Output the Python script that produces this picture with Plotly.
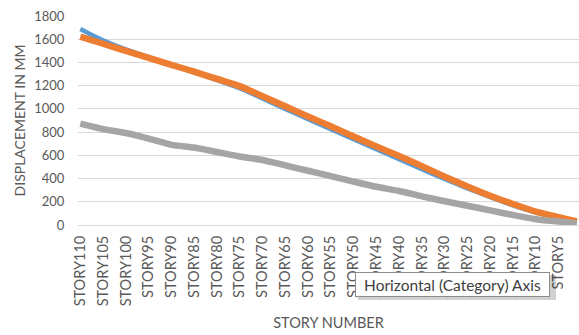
import plotly.graph_objects as go

# Categories (all stories on the axis) and labelled ticks
all_stories = [f"STORY{n}" for n in range(110, 0, -1)]
tick_stories = [f"STORY{n}" for n in range(110, 0, -5)]

read_stories = tick_stories + ["STORY1"]

blue_vals = [1688, 1590, 1512, 1445, 1378, 1314, 1248, 1178, 1090, 1000, 912,
             826, 740, 652, 566, 480, 396, 316, 240, 170, 108, 58, 22]
orange_vals = [1622, 1561, 1500, 1440, 1380, 1320, 1258, 1196, 1110, 1022, 935,
               850, 763, 677, 594, 507, 417, 332, 252, 181, 116, 68, 30]
gray_vals = [873, 826, 792, 744, 690, 667, 629, 590, 560, 514, 467,
             421, 374, 329, 293, 247, 205, 166, 126, 86, 50, 30, 14]

fig = go.Figure()
fig.add_trace(go.Scatter(x=read_stories, y=blue_vals, mode="lines",
                         line=dict(color="#5B9BD5", width=4.5, shape="spline", smoothing=0.6),
                         showlegend=False, hoverinfo="skip"))
fig.add_trace(go.Scatter(x=read_stories, y=orange_vals, mode="lines",
                         line=dict(color="#ED7D31", width=6.5, shape="spline", smoothing=0.6),
                         showlegend=False, hoverinfo="skip"))
fig.add_trace(go.Scatter(x=read_stories, y=gray_vals, mode="lines",
                         line=dict(color="#A5A5A5", width=6.5, shape="spline", smoothing=0.6),
                         showlegend=False, hoverinfo="skip"))

font_family = "Lato, Open Sans, sans-serif"

fig.update_layout(
    width=579, height=335,
    margin=dict(l=78, r=0, t=16, b=110),
    plot_bgcolor="white", paper_bgcolor="white",
    font=dict(family=font_family, color="#595959", size=12),
    xaxis=dict(
        type="category", categoryorder="array", categoryarray=all_stories,
        range=[-0.5, 109.5],
        tickmode="array", tickvals=tick_stories, ticktext=tick_stories,
        tickangle=-90, ticks="outside", ticklen=4, tickcolor="rgba(0,0,0,0)",
        showgrid=False, showline=False, zeroline=False,
        tickfont=dict(size=14.5, color="#595959"),
        title=dict(text="STORY NUMBER", font=dict(size=14.5, color="#595959"), standoff=12),
        automargin=False,
    ),
    yaxis=dict(
        range=[0, 1800], tickmode="array", tickvals=list(range(0, 1801, 200)),
        showgrid=True, gridcolor="#D9D9D9", gridwidth=1,
        zeroline=True, zerolinecolor="#D9D9D9", zerolinewidth=1,
        showline=False, ticks="outside", ticklen=10, tickcolor="rgba(0,0,0,0)",
        tickfont=dict(size=13, color="#595959"),
        title=dict(text="DISPLACEMENT IN MM", font=dict(size=14, color="#595959"), standoff=5),
        automargin=False,
    ),
)

# Tooltip-like box shown in the reference (with a soft shadow)
fig.add_shape(type="rect", xref="paper", yref="paper",
              x0=(358 - 78) / 501, x1=(556 - 78) / 501,
              y0=(225 - 300) / 209, y1=(225 - 275) / 209,
              fillcolor="rgba(0,0,0,0.18)", line=dict(width=0), layer="above")
fig.add_annotation(text="Horizontal (Category) Axis", xref="paper", yref="paper",
                   x=(355 - 78) / 501, y=(225 - 272) / 209, xanchor="left", yanchor="top",
                   width=189, height=19, align="center",
                   showarrow=False, bgcolor="white", bordercolor="#8C8C8C", borderwidth=1,
                   borderpad=2, font=dict(size=15.5, color="#404040", family=font_family))

fig.write_html("out.html")
